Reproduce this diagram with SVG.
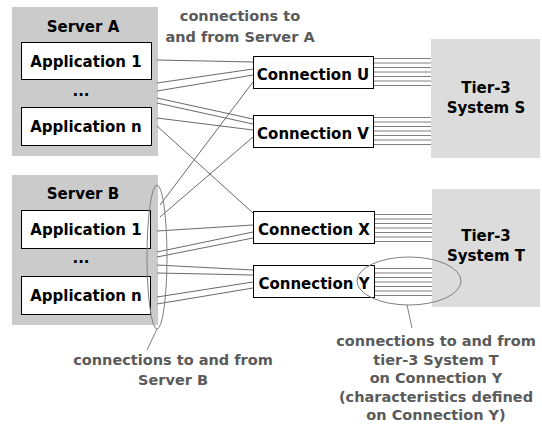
<svg xmlns="http://www.w3.org/2000/svg" width="542" height="437" viewBox="0 0 542 437">
<style>
  text { font-family: "DejaVu Sans", "Liberation Sans", sans-serif; font-weight: bold; font-size: 15px; text-anchor: middle; fill: #000; }
  .lbl { fill: #5a5a5a; font-size: 14.5px; }
  .srv { fill: #cbcbcb; stroke: none; }
  .tier { fill: #dcdcdc; stroke: none; }
  .box { fill: #fff; stroke: #000; stroke-width: 1; }
  .ln { stroke: #6a6a6a; stroke-width: 1; fill: none; }
  .bd { stroke: #808080; stroke-width: 1; fill: none; }
  .el { stroke: #808080; stroke-width: 1; fill: none; }
</style>
<rect width="542" height="437" fill="#fff"/>

<g id="serverA">
  <rect class="srv" x="12" y="7" width="146" height="149"/>
  <text x="83" y="32">Server A</text>
  <g id="serverA-app1"><rect class="box" x="21.5" y="42.5" width="130" height="37"/><text x="86" y="67">Application 1</text></g>
  <text x="81" y="96">...</text>
  <g id="serverA-appn"><rect class="box" x="21.5" y="107.5" width="130" height="38"/><text x="86" y="132">Application n</text></g>
</g>

<g id="serverB">
  <rect class="srv" x="12" y="175" width="146" height="150"/>
  <text x="83" y="199">Server B</text>
  <g id="serverB-app1"><rect class="box" x="21.5" y="210.5" width="129" height="38"/><text x="86" y="235">Application 1</text></g>
  <text x="81" y="263">...</text>
  <g id="serverB-appn"><rect class="box" x="21.5" y="276.5" width="129" height="38"/><text x="86" y="301">Application n</text></g>
</g>

<g id="tierS">
  <rect class="tier" x="431" y="39" width="109" height="119"/>
  <text x="486" y="93">Tier-3</text>
  <text x="486" y="113">System S</text>
</g>

<g id="tierT">
  <rect class="tier" x="432" y="189" width="108" height="118"/>
  <text x="486" y="241">Tier-3</text>
  <text x="486" y="261">System T</text>
</g>

<g id="connectors">
  <line class="ln" x1="157" y1="60" x2="253" y2="62"/>
  <line class="ln" x1="157" y1="83" x2="253" y2="69"/>
  <line class="ln" x1="157" y1="91" x2="253" y2="75"/>
  <line class="ln" x1="157" y1="98" x2="253" y2="119"/>
  <line class="ln" x1="157" y1="103" x2="253" y2="124"/>
  <line class="ln" x1="157" y1="118" x2="253" y2="130"/>
  <line class="ln" x1="157" y1="126" x2="253" y2="213"/>
  <line class="ln" x1="160" y1="205" x2="253" y2="82"/>
  <line class="ln" x1="160" y1="217" x2="253" y2="137"/>
  <line class="ln" x1="157" y1="231" x2="253" y2="225"/>
  <line class="ln" x1="157" y1="252" x2="253" y2="232"/>
  <line class="ln" x1="157" y1="257" x2="253" y2="238"/>
  <line class="ln" x1="157" y1="265" x2="253" y2="270"/>
  <line class="ln" x1="157" y1="273" x2="253" y2="275"/>
  <line class="ln" x1="157" y1="297" x2="253" y2="282"/>
  <line class="ln" x1="157" y1="304" x2="253" y2="288"/>
  <path class="bd" d="M373 58.5H431M373 63H431M373 67.5H431M373 72H431M373 76.5H431M373 81H431M373 85.5H431"/>
  <path class="bd" d="M373 117.5H431M373 122H431M373 126.5H431M373 131H431M373 135.5H431M373 140H431M373 144.5H431"/>
  <path class="bd" d="M375 214.5H432M375 219H432M375 223.5H432M375 228H432M375 232.5H432M375 237H432M375 241.5H432"/>
  <path class="bd" d="M375 268.5H432M375 273H432M375 277.5H432M375 282H432M375 286.5H432M375 291H432M375 295.5H432"/>
</g>

<g id="connU"><rect class="box" x="253.5" y="56.5" width="120" height="32"/><text x="313" y="80">Connection U</text></g>
<g id="connV"><rect class="box" x="253.5" y="115.5" width="120" height="32"/><text x="313" y="139">Connection V</text></g>
<g id="connX"><rect class="box" x="253.5" y="211.5" width="121" height="32"/><text x="314" y="235">Connection X</text></g>
<g id="connY"><rect class="box" x="253.5" y="265.5" width="121" height="32"/><text x="314" y="289">Connection Y</text></g>

<g id="annotations">
  <ellipse class="el" cx="157" cy="257" rx="10" ry="72"/>
  <line class="el" x1="157" y1="329" x2="147" y2="350"/>
  <ellipse class="el" cx="409" cy="281" rx="52" ry="24"/>
  <line class="el" x1="407" y1="305" x2="412" y2="328"/>
  <text class="lbl" x="240" y="21">connections to</text>
  <text class="lbl" x="240" y="42">and from Server A</text>
  <text class="lbl" x="173" y="365">connections to and from</text>
  <text class="lbl" x="173" y="385">Server B</text>
  <text class="lbl" x="436" y="346">connections to and from</text>
  <text class="lbl" x="436" y="365">tier-3 System T</text>
  <text class="lbl" x="436" y="383">on Connection Y</text>
  <text class="lbl" x="436" y="402">(characteristics defined</text>
  <text class="lbl" x="436" y="420">on Connection Y)</text>
</g>
</svg>
